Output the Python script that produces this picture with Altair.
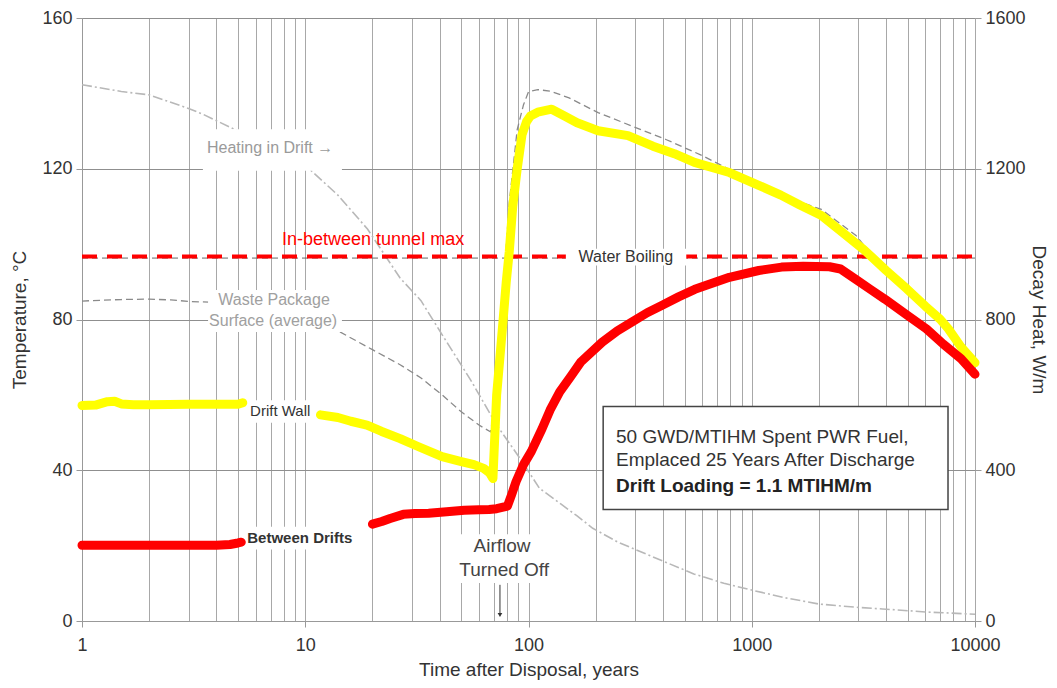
import altair as alt
import pandas as pd

# ---------------- data ----------------
# Drift wall temperature (yellow), degC
wall1_x = [1, 1.15, 1.3, 1.4, 1.5, 1.7, 2, 3, 4, 5, 5.25]
wall1_y = [57.2, 57.3, 58.2, 58.3, 57.6, 57.4, 57.4, 57.5, 57.5, 57.5, 57.9]
wall2_x = [11.7, 14, 16, 18.9, 22, 26.6, 32, 41, 50, 57, 63, 67, 69.3, 70.5, 72, 74, 77,
           79.5, 82, 85, 89, 93.5, 98, 102, 110, 127, 145, 165, 205, 279, 361, 450, 554,
           794, 1075, 1350, 1650, 2050, 2560, 3170, 3457, 4000, 4955, 6000, 6970, 7600,
           8660, 10000]
wall2_y = [54.7, 54, 53, 52, 50.3, 48.4, 46.3, 43.6, 42.3, 41.5, 40.5, 39.3, 37.8, 48, 60,
           68, 80, 90, 98, 110, 120, 129, 132.5, 134, 135, 135.8, 134, 132.2, 130.1, 128.8,
           126, 124, 121.7, 119, 115.6, 113, 110.3, 107.6, 103, 98.6, 96.5, 93, 88.1, 83.5,
           80.1, 77.5, 72.7, 68.5]

# Between drifts temperature (red), degC
betw1_x = [1, 2, 3, 4, 4.6, 5, 5.17]
betw1_y = [20.1, 20.1, 20.1, 20.1, 20.3, 20.7, 20.9]
betw2_x = [20, 22, 24, 27.5, 31, 35.7, 43, 51.5, 60, 66.6, 72, 80.5, 84, 88, 95, 103, 115,
           125, 138, 155, 172, 214, 250, 290, 340, 397, 470, 556, 794, 1075, 1360, 1700,
           2230, 2500, 2920, 3400, 3950, 5000, 6060, 7200, 8660, 10000]
betw2_y = [25.7, 26.4, 27.2, 28.3, 28.5, 28.6, 29, 29.4, 29.5, 29.6, 29.8, 30.5, 33.5, 37,
           41.5, 45, 51, 56, 60.8, 65, 68.8, 74, 77, 79.3, 81.8, 83.8, 86, 88, 91.2, 93,
           93.9, 94.1, 94, 93.4, 90.7, 88, 85.4, 81, 77.5, 73.5, 69.6, 65.5]

# Waste package surface (average), degC (grey dashed)
wp1_x = [1, 1.5, 2, 2.5, 3, 3.7]
wp1_y = [84.9, 85.3, 85.4, 85.2, 84.8, 84.6]
wp2_x = [14.3, 20, 26.6, 33, 41, 50, 60, 67.5, 70, 75, 82, 89, 95, 100, 110, 125, 152, 205,
         300, 415, 600, 794, 1000, 1360, 2050, 2930, 3400]
wp2_y = [76.7, 72, 68, 64.5, 60, 55.5, 52, 50.2, 55, 78, 111, 130.4, 137, 140.4, 141,
         140.6, 138.8, 134.9, 131, 127.7, 123.5, 119.8, 117, 112.9, 109.2, 102.3, 97.5]

# Decay heat, W/m (right axis)
heat_x = [1, 1.5, 2, 3, 3.5, 5, 5.4, 7, 10.5, 14, 19, 26.6, 33, 41, 55, 72, 92, 112, 140,
          164, 194, 250, 300, 400, 550, 750, 1000, 1400, 2000, 3000, 3850, 6000, 10000]
heat_y = [1423, 1405, 1396, 1360, 1344, 1300, 1296, 1260, 1198, 1130, 1040, 910, 850, 760,
          640, 520, 430, 352, 310, 280, 246, 210, 190, 159, 125, 100, 82, 62, 45, 36, 32,
          24, 18]

tunnel_max = 96.7
water_boiling = 96.3

x_ticks = [m * 10 ** e for e in range(4) for m in range(1, 10)] + [10000]
t_ticks = [0, 40, 80, 120, 160]
h_ticks = [0, 400, 800, 1200, 1600]

box_lines = ["50 GWD/MTIHM Spent PWR Fuel,", "Emplaced 25 Years After Discharge",
             "Drift Loading = 1.1 MTIHM/m"]

FONT = "Liberation Sans"
W, H = 893, 603

xs = alt.Scale(type="log", domain=[1, 10000], nice=False)
ts = alt.Scale(domain=[0, 160], nice=False)
hs = alt.Scale(domain=[0, 1600], nice=False)

x_axis = alt.Axis(
    values=x_ticks, format="d", grid=True, gridColor="#a8a8a8", gridWidth=1,
    labelExpr="indexof(['1','10','100','1000','10000'], datum.label) >= 0 ? datum.label : ''",
    labelOverlap=False, labelFlush=False, tickSize=6, tickColor="#999",
    tickOpacity={"condition": {"test": "indexof([1,10,100,1000,10000], datum.value) >= 0",
                               "value": 1}, "value": 0},
    domainColor="#999", labelFontSize=18, labelColor="#333", labelPadding=9,
    labelFont=FONT, title="Time after Disposal, years", titleFont=FONT, titleFontSize=19,
    titleFontWeight="normal", titleColor="#333", titlePadding=6)

t_axis = alt.Axis(
    values=t_ticks, format="d", grid=True, gridColor="#8f8f8f", gridWidth=1, tickSize=6,
    tickColor="#999", domainColor="#999", labelFontSize=18, labelColor="#333",
    labelPadding=4, labelFont=FONT, labelFlush=False, title="Temperature, °C",
    titleFont=FONT, titleFontSize=19, titleFontWeight="normal", titleColor="#333",
    titlePadding=12)

h_axis = alt.Axis(
    orient="right", values=h_ticks, format="d", grid=False, tickSize=6, tickColor="#999",
    domain=False, labelFontSize=18, labelColor="#333", labelPadding=4,
    labelFont=FONT, labelFlush=False, title="Decay Heat, W/m", titleFont=FONT,
    titleFontSize=19, titleFontWeight="normal", titleColor="#333", titlePadding=3)

X = dict(field="x", type="quantitative", scale=xs, axis=x_axis)
Y = dict(field="y", type="quantitative", scale=ts, axis=t_axis)


def series(xv, yv):
    return pd.DataFrame({"x": xv, "y": yv})


def line(xv, yv, **kw):
    return alt.Chart(series(xv, yv)).mark_line(**kw).encode(
        x=alt.X(**X), y=alt.Y(**Y))


# decay heat on the right axis
heat = alt.Chart(series(heat_x, heat_y)).mark_line(
    color="#b8b8b8", strokeWidth=1.6, strokeDash=[10, 3, 2, 3]).encode(
    x=alt.X(**X),
    y=alt.Y("y:Q", scale=hs, axis=h_axis),
)

# reference lines
boil = line([1, 10000], [water_boiling] * 2, color="#666", strokeWidth=1,
            strokeDash=[6, 4])
tmax = line([1, 10000], [tunnel_max] * 2, color="#ff0000", strokeWidth=4,
            strokeDash=[15, 10])

wp1 = line(wp1_x, wp1_y, color="#8a8a8a", strokeWidth=1.3, strokeDash=[7, 4])
wp2 = line(wp2_x, wp2_y, color="#8a8a8a", strokeWidth=1.3, strokeDash=[7, 4])

# white backgrounds behind annotation labels (data coordinates)
bg = pd.DataFrame({
    "x": [3.48, 3.67, 5.43, 5.3, 46.9, 147],
    "x2": [14.6, 14.6, 11.65, 19.5, 128, 509],
    "y": [119.5, 76.7, 52.6, 19.0, 10.1, 94.3],
    "y2": [130.5, 87.8, 58.6, 25.0, 23.0, 98.8],
})
bgs = alt.Chart(bg).mark_rect(color="white").encode(
    x=alt.X(**X), x2="x2:Q", y=alt.Y(**Y), y2="y2:Q")


def label(text, x, y, size=16, color="#333", align="center", weight="normal", font=FONT):
    return alt.Chart(pd.DataFrame({"x": [x], "y": [y], "t": [text]})).mark_text(
        align=align, baseline="middle", fontSize=size, color=color, fontWeight=weight,
        font=font).encode(x=alt.X(**X), y=alt.Y(**Y), text="t:N")


labels = [
    label("Heating in Drift \u2192", 3.63, 125.4, size=16, color="#9a9a9a", align="left"),
    label("Waste Package", 7.25, 85.2, size=16, color="#a0a0a0"),
    label("Surface (average)", 7.18, 79.6, size=16, color="#a0a0a0"),
    label("Drift Wall", 5.66, 55.8, size=15, color="#333", align="left"),
    label("Between Drifts", 5.5, 21.9, size=15, color="#333", align="left", weight="bold"),
    label("Airflow", 76.1, 19.8, size=19, color="#444"),
    label("Turned Off", 77.8, 13.5, size=19, color="#444"),
    label("In-between tunnel max", 7.87, 101.2, size=18, color="#ff0000", align="left"),
    label("Water Boiling", 273, 96.5, size=16, color="#333"),
]

arrow = alt.Chart(pd.DataFrame({"x": [74.5], "y": [9.6], "y2": [1.6]})).mark_rule(
    color="#333", strokeWidth=1).encode(x=alt.X(**X), y=alt.Y(**Y), y2="y2:Q")
arrow_head = alt.Chart(pd.DataFrame({"x": [74.5], "y": [1.6]})).mark_point(
    shape="triangle-down", filled=True, color="#333", size=22, opacity=1).encode(
    x=alt.X(**X), y=alt.Y(**Y))

wall1 = line(wall1_x, wall1_y, color="#ffff00", strokeWidth=9, strokeCap="round",
             strokeJoin="round")
wall2 = line(wall2_x, wall2_y, color="#ffff00", strokeWidth=9, strokeCap="round",
             strokeJoin="round")
betw1 = line(betw1_x, betw1_y, color="#ff0000", strokeWidth=9, strokeCap="round",
             strokeJoin="round")
betw2 = line(betw2_x, betw2_y, color="#ff0000", strokeWidth=9, strokeCap="round",
             strokeJoin="round")

box = alt.Chart(pd.DataFrame({"x": [216], "x2": [7570], "y": [29.6], "y2": [56.9]})).mark_rect(
    fill="white", stroke="#444", strokeWidth=1.5).encode(
    x=alt.X(**X), x2="x2:Q", y=alt.Y(**Y), y2="y2:Q")
box_text = [
    label(box_lines[0], 246.6, 48.9, size=19, color="#333", align="left"),
    label(box_lines[1], 246.6, 42.6, size=19, color="#333", align="left"),
    label(box_lines[2], 246.6, 35.7, size=19, color="#222", align="left", weight="bold"),
]

left = alt.layer(boil, wp1, wp2, tmax, bgs, *labels, arrow, arrow_head,
                 wall1, wall2, betw1, betw2, box, *box_text)

chart = alt.layer(heat, left).resolve_scale(y="independent").properties(
    width=W, height=H,
    autosize=alt.AutoSizeParams(type="none"),
    padding={"left": 74, "top": 10, "right": 74, "bottom": 59},
).configure_view(stroke=None).configure(font=FONT)

chart.save("out.html", embed_options={"renderer": "svg", "actions": False})
